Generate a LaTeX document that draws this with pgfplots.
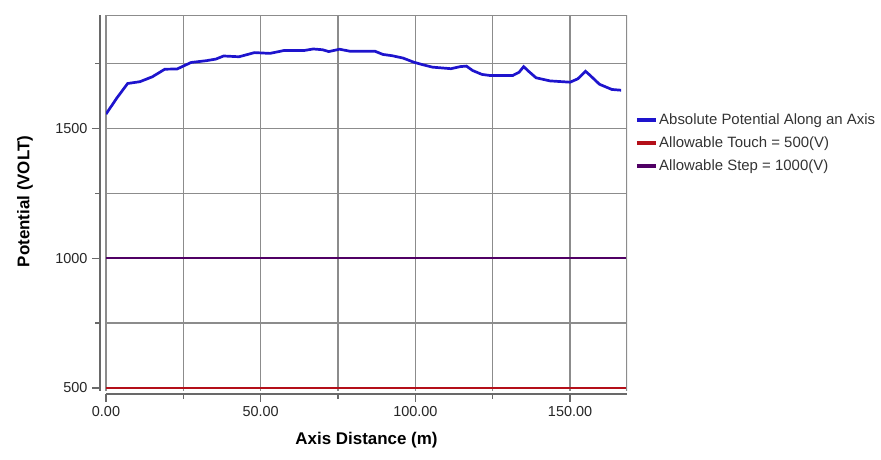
\documentclass[border=0pt]{standalone}
\usepackage{pgfplots}
\pgfplotsset{compat=1.18}
\usepackage{fontspec}
\setmainfont{Liberation Sans}

\definecolor{potblue}{RGB}{30,20,205}
\definecolor{touchred}{RGB}{180,15,25}
\definecolor{steppurple}{RGB}{80,0,100}
\definecolor{gridgray}{RGB}{140,140,140}
\definecolor{axgray}{RGB}{105,105,105}

% potential profile along the axis (m, V)
\pgfplotstableread{
x y
0 1555
3.5 1617
7 1673
11 1680
15 1699
19 1728
23 1729
27.5 1754
32.5 1761
35.5 1767
38 1779
43 1776
48 1792
53 1789
57.5 1800
64 1800
67 1806
70 1803
72 1796
75.5 1805
79 1797
87 1797
89.5 1785
92.5 1780
96 1771
99.5 1755
102.5 1745
105.5 1736
111.5 1730
114.5 1738
116.5 1740
118.5 1723
121.5 1708
124 1704
131.5 1704
133.5 1716
135 1738
136.5 1721
139 1695
143.5 1683
150 1678
152.5 1691
155 1720
156.5 1704
159.5 1670
163.5 1650
166.5 1647
}\potential

\begin{document}
\begin{tikzpicture}
\path[use as bounding box] (0,0) rectangle (881bp,460bp);
\begin{axis}[
  at={(106bp,69.5bp)}, anchor=south west,
  scale only axis, width=521bp, height=375bp,
  xmin=0, xmax=168.4, ymin=490, ymax=1935,
  axis x line*=bottom, axis y line*=left,
  axis x line shift=3.5bp, axis y line shift=6bp,
  axis line style={axgray, line width=1.6bp},
  xtick={0,50,100,150}, minor xtick={25,75,125},
  xticklabels={0.00,50.00,100.00,150.00},
  ytick={500,1000,1500}, minor ytick={750,1250,1750},
  yticklabels={500,1000,1500},
  grid=both,
  major grid style={gridgray, line width=1.3bp},
  minor grid style={gridgray, line width=1.3bp},
  tick align=outside,
  major tick length=8bp, minor tick length=5bp,
  tick style={axgray, line width=1.2bp},
  ticklabel style={font=\fontsize{14.5}{16}\selectfont, text=black!85},
  xticklabel style={yshift=-1bp},
  yticklabel style={xshift=-1bp},
  xlabel={Axis Distance (m)},
  ylabel={Potential (VOLT)},
  xlabel style={font=\fontsize{17}{20}\selectfont\bfseries, at={(axis description cs:0.5,-0.1317)}, anchor=center},
  ylabel style={font=\fontsize{17}{20}\selectfont\bfseries, at={(axis description cs:-0.1555,0.504)}, anchor=center},
  legend style={at={(axis description cs:1.0154,0.742)}, anchor=north west,
    draw=none, fill=none, inner sep=0pt, row sep=7.5bp,
    font=\fontsize{15}{17}\selectfont,
    nodes={inner sep=1.5bp, text=black!80}},
  legend cell align=left,
  legend image code/.code={\draw[line width=3.5bp] (0bp,0bp) -- (19bp,0bp);},
]
\addplot[potblue, line width=2.7bp] table[x=x, y=y] {\potential};
\addlegendentry{Absolute Potential Along an Axis}
\addplot[touchred, line width=2.4bp] coordinates {(0,500) (168.4,500)};
\addlegendentry{Allowable Touch = 500(V)}
\addplot[steppurple, line width=2.4bp] coordinates {(0,1000) (168.4,1000)};
\addlegendentry{Allowable Step = 1000(V)}
\draw[gridgray, line width=1.3bp] (rel axis cs:0,1) -- (rel axis cs:1,1) -- (rel axis cs:1,0);
\end{axis}
\end{tikzpicture}
\end{document}
